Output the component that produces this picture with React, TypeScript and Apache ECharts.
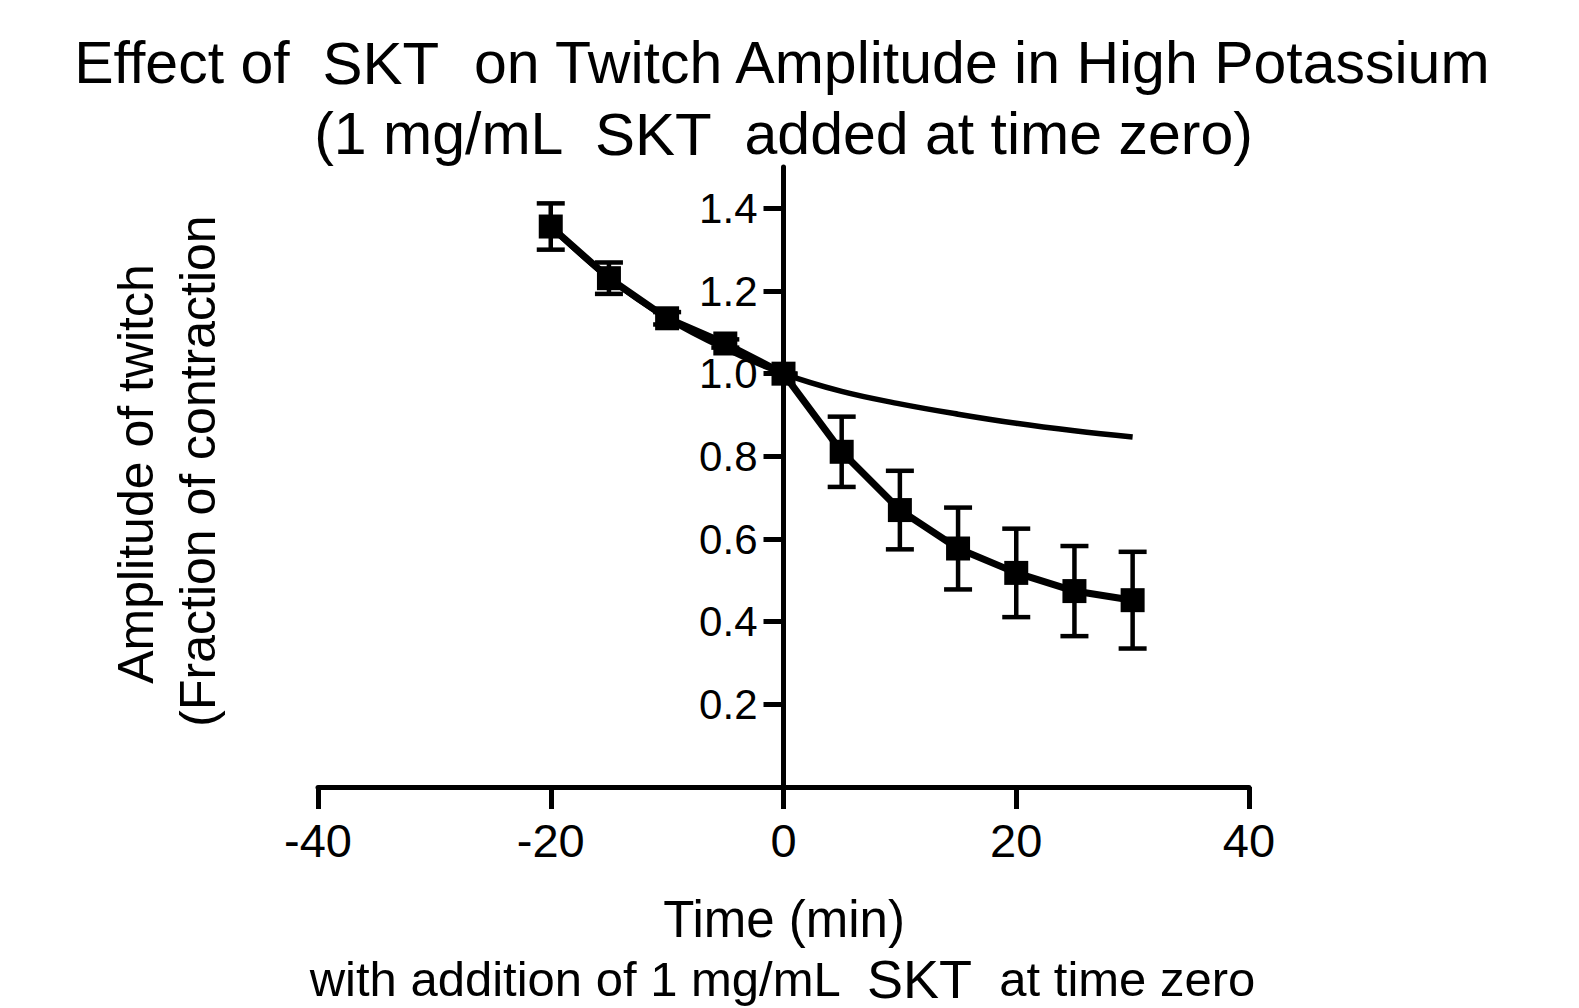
import React, { useEffect, useRef } from "react";
import * as echarts from "echarts";

const timeMin = [-20, -15, -10, -5, 0, 5, 10, 15, 20, 25, 30];
const amplitude = [1.356, 1.231, 1.134, 1.073, 1.0, 0.811, 0.67, 0.577, 0.518, 0.474, 0.452];
const amplitudeErr = [0.056, 0.038, 0.015, 0.01, 0.0, 0.085, 0.095, 0.099, 0.107, 0.109, 0.117];
const fitCurve = [1.356, 1.231, 1.134, 1.06, 1.0, 0.957, 0.927, 0.902, 0.88, 0.862, 0.847];
const yTicks = [0.2, 0.4, 0.6, 0.8, 1.0, 1.2, 1.4];
const xTicks = [-40, -20, 0, 20, 40];

const FONT = "Liberation Sans, Arial, sans-serif";
const GRID_LEFT = 318;
const GRID_RIGHT = 330;
const WIDTH = 1579;

export default function App() {
  const ref = useRef<HTMLDivElement>(null);
  useEffect(() => {
    if (!ref.current) return;
    const chart = echarts.init(ref.current, null, { renderer: "svg" });
    const pts = timeMin.map((t, i) => [t, amplitude[i]]);
    const errs = timeMin.map((t, i) => [t, amplitude[i], amplitudeErr[i]]);
    const fit = timeMin.map((t, i) => [t, fitCurve[i]]);
    const plotW = WIDTH - GRID_LEFT - GRID_RIGHT;
    const zeroOffset = -plotW * (0 - xTicks[0]) / (xTicks[xTicks.length - 1] - xTicks[0]);
    chart.setOption({
      animation: false,
      backgroundColor: "#ffffff",
      textStyle: { fontFamily: FONT },
      grid: { left: GRID_LEFT, right: GRID_RIGHT, top: 167, bottom: 221, containLabel: false, outerBoundsMode: "none" },
      xAxis: {
        type: "value",
        min: xTicks[0],
        max: xTicks[xTicks.length - 1],
        interval: 20,
        axisLine: { show: true, onZero: false, lineStyle: { color: "#000", width: 5 } },
        axisTick: { show: true, length: 22, lineStyle: { color: "#000", width: 5 } },
        axisLabel: { color: "#000", fontSize: 47, fontFamily: FONT, margin: 30 },
        splitLine: { show: false },
      },
      yAxis: {
        type: "value",
        min: 0,
        max: 1.5,
        position: "left",
        offset: zeroOffset,
        axisLine: { show: true, onZero: false, lineStyle: { color: "#000", width: 5 } },
        axisTick: { show: true, length: 20, customValues: yTicks, lineStyle: { color: "#000", width: 5 } },
        axisLabel: {
          color: "#000",
          fontSize: 42,
          fontFamily: FONT,
          margin: 26,
          customValues: yTicks,
          formatter: (v: number) => v.toFixed(1),
        },
        splitLine: { show: false },
      },
      graphic: [
        {
          type: "text",
          x: 783,
          y: 63,
          style: {
            text: "Effect of  {s|SKT}  on Twitch Amplitude in High Potassium",
            fontSize: 59,
            fontFamily: FONT,
            fill: "#000",
            align: "center",
            verticalAlign: "middle",
            rich: { s: { fontSize: 60, fontFamily: FONT, fill: "#000" } },
          },
        },
        {
          type: "text",
          x: 783,
          y: 134,
          style: {
            text: "(1 mg/mL  {s|SKT}  added at time zero)",
            fontSize: 59,
            fontFamily: FONT,
            fill: "#000",
            align: "center",
            verticalAlign: "middle",
            rich: { s: { fontSize: 60, fontFamily: FONT, fill: "#000" } },
          },
        },
        {
          type: "text",
          x: 136,
          y: 474,
          rotation: Math.PI / 2,
          style: {
            text: "Amplitude of twitch",
            fontSize: 50,
            fontFamily: FONT,
            fill: "#000",
            align: "center",
            verticalAlign: "middle",
          },
        },
        {
          type: "text",
          x: 198,
          y: 471,
          rotation: Math.PI / 2,
          style: {
            text: "(Fraction of contraction",
            fontSize: 50,
            fontFamily: FONT,
            fill: "#000",
            align: "center",
            verticalAlign: "middle",
          },
        },
        {
          type: "text",
          x: 784,
          y: 919,
          style: {
            text: "Time (min)",
            fontSize: 51,
            fontFamily: FONT,
            fill: "#000",
            align: "center",
            verticalAlign: "middle",
          },
        },
        {
          type: "text",
          x: 782,
          y: 979,
          style: {
            text: "with addition of 1 mg/mL  {s|SKT}  at time zero",
            fontSize: 49,
            fontFamily: FONT,
            fill: "#000",
            align: "center",
            verticalAlign: "middle",
            rich: { s: { fontSize: 54, fontFamily: FONT, fill: "#000" } },
          },
        },
      ],
      series: [
        {
          type: "line",
          data: fit,
          smooth: 0.4,
          showSymbol: false,
          symbol: "none",
          lineStyle: { color: "#000", width: 5.5 },
          z: 2,
        },
        {
          type: "custom",
          data: errs,
          z: 3,
          renderItem: (params: any, api: any) => {
            const x = api.value(0);
            const y = api.value(1);
            const e = api.value(2);
            const top = api.coord([x, y + e]);
            const bot = api.coord([x, y - e]);
            const hw = 14;
            const st = { stroke: "#000", lineWidth: 4.5 };
            return {
              type: "group",
              children: [
                { type: "line", shape: { x1: top[0], y1: top[1], x2: bot[0], y2: bot[1] }, style: st },
                { type: "line", shape: { x1: top[0] - hw, y1: top[1], x2: top[0] + hw, y2: top[1] }, style: st },
                { type: "line", shape: { x1: bot[0] - hw, y1: bot[1], x2: bot[0] + hw, y2: bot[1] }, style: st },
              ],
            };
          },
        },
        {
          type: "line",
          data: pts,
          symbol: "rect",
          symbolSize: 24,
          showSymbol: true,
          itemStyle: { color: "#000" },
          lineStyle: { color: "#000", width: 7 },
          z: 4,
        },
      ],
    });
    return () => chart.dispose();
  }, []);
  return (
    <div
      ref={ref}
      style={{ position: "absolute", left: 0, top: 0, width: WIDTH, height: 1008, background: "#fff" }}
    />
  );
}
